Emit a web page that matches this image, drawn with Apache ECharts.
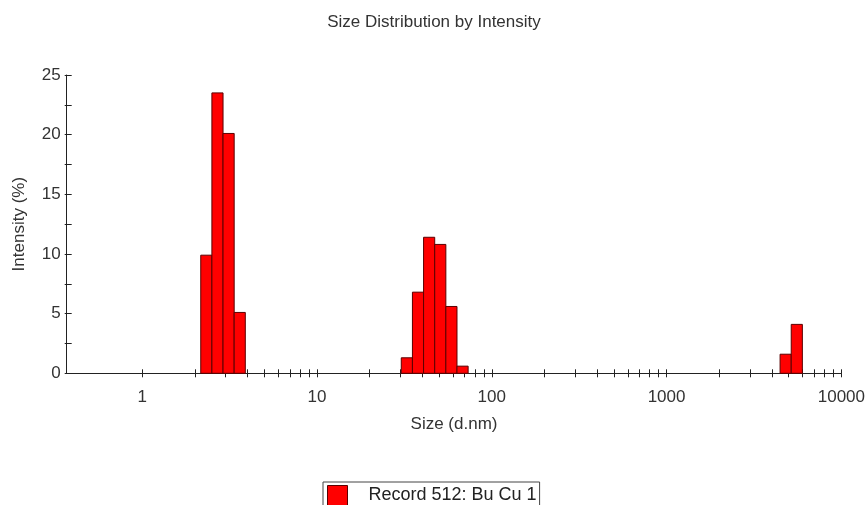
<!DOCTYPE html>
<html>
<head>
<meta charset="utf-8">
<script src="https://cdn.jsdelivr.net/npm/echarts@6/dist/echarts.min.js"></script>
<style>
  html, body { margin: 0; padding: 0; background: #ffffff; }
  #chart { width: 868px; height: 505px; }
</style>
</head>
<body>
<div id="chart"></div>
<script>
// Size classes (d.nm) with non-zero intensity
const sizes = [2.328, 2.696, 3.122, 3.615, 32.67, 37.84, 43.82, 50.75, 58.77, 68.06, 4801, 5560];
// Intensity (%) per size class
const intensities = [9.9, 23.5, 20.1, 5.1, 1.3, 6.8, 11.4, 10.8, 5.6, 0.6, 1.6, 4.1];
// Axis ticks
const xLabelValues = [1, 10, 100, 1000, 10000];
const xTickValues = [1, 2, 3, 4, 5, 6, 7, 8, 9, 10, 20, 30, 40, 50, 60, 70, 80, 90, 100,
  200, 300, 400, 500, 600, 700, 800, 900, 1000, 2000, 3000, 4000, 5000, 6000, 7000, 8000, 9000, 10000];
const yLabelValues = [0, 5, 10, 15, 20, 25];
const yTickValues = [0, 2.5, 5, 7.5, 10, 12.5, 15, 17.5, 20, 22.5, 25];
const seriesName = 'Record 512: Bu Cu 1';

// instrument size classes: 70 log-spaced classes from 0.4 to 10000 nm
const classRatio = Math.pow(10000 / 0.4, 1 / 69);
const halfRatio = Math.sqrt(classRatio);

const data = sizes.map((s, i) => [s, intensities[i]]);

const txt = '#333333';
const axisCol = '#222222';
const font = '"Liberation Sans", Arial, sans-serif';

const chart = echarts.init(document.getElementById('chart'), null, { renderer: 'canvas' });
chart.setOption({
  animation: false,
  backgroundColor: '#ffffff',
  textStyle: { fontFamily: font },
  title: {
    text: 'Size Distribution by Intensity',
    left: 'center',
    top: 14,
    padding: 0,
    textStyle: { fontSize: 17, fontWeight: 'normal', color: txt, fontFamily: font }
  },
  legend: {
    left: 323,
    top: 482,
    padding: [3, 3, 3, 4],
    borderColor: '#444444',
    borderWidth: 1,
    itemWidth: 20,
    itemHeight: 20,
    textStyle: { fontSize: 18, color: '#222222', padding: [0, 0, 0, 16], fontFamily: font },
    data: [{ name: seriesName, icon: 'rect', itemStyle: { color: '#ff0000', borderColor: '#5a0000', borderWidth: 1 } }]
  },
  grid: { left: 66.7, right: 24.5, top: 75, bottom: 131.7, containLabel: false },
  xAxis: [
    {
      type: 'log', logBase: 10, min: 0.37, max: 10000,
      name: 'Size (d.nm)', nameLocation: 'middle', nameGap: 43,
      nameTextStyle: { fontSize: 17, color: txt, fontFamily: font },
      axisLine: { show: true, lineStyle: { color: axisCol, width: 1 } },
      axisTick: { show: true, inside: false, length: 4, customValues: xTickValues, lineStyle: { color: axisCol } },
      axisLabel: {
        show: true, customValues: xLabelValues, fontSize: 17, color: txt, margin: 16, fontFamily: font,
        formatter: function (v) { return String(Math.round(v)); }
      },
      splitLine: { show: false }, minorTick: { show: false }
    },
    {
      type: 'log', logBase: 10, min: 0.37, max: 10000, position: 'bottom',
      axisLine: { show: false },
      axisTick: { show: true, inside: true, length: 4, customValues: xTickValues, lineStyle: { color: axisCol } },
      axisLabel: { show: false },
      splitLine: { show: false }
    }
  ],
  yAxis: [
    {
      type: 'value', min: 0, max: 25,
      name: 'Intensity (%)', nameLocation: 'middle', nameGap: 39,
      nameTextStyle: { fontSize: 17, color: txt, fontFamily: font },
      axisLine: { show: true, lineStyle: { color: axisCol, width: 1 } },
      axisTick: { show: true, inside: false, length: 2, customValues: yTickValues, lineStyle: { color: axisCol } },
      axisLabel: { show: true, customValues: yLabelValues, fontSize: 17, color: txt, margin: 6, fontFamily: font },
      splitLine: { show: false }
    },
    {
      type: 'value', min: 0, max: 25, position: 'left',
      axisLine: { show: false },
      axisTick: { show: true, inside: true, length: 5, customValues: yTickValues, lineStyle: { color: axisCol } },
      axisLabel: { show: false },
      splitLine: { show: false }
    }
  ],
  series: [{
    name: seriesName,
    type: 'custom',
    xAxisIndex: 0,
    yAxisIndex: 0,
    data: data,
    encode: { x: 0, y: 1 },
    itemStyle: { color: '#ff0000', borderColor: '#5a0000', borderWidth: 1 },
    renderItem: function (params, api) {
      const s = api.value(0);
      const v = api.value(1);
      const lo = api.coord([s / halfRatio, 0]);
      const hi = api.coord([s * halfRatio, v]);
      return {
        type: 'rect',
        shape: { x: lo[0], y: hi[1], width: hi[0] - lo[0], height: lo[1] - hi[1] },
        style: { fill: '#ff0000', stroke: '#5a0000', lineWidth: 1 }
      };
    }
  }]
});
</script>
</body>
</html>
